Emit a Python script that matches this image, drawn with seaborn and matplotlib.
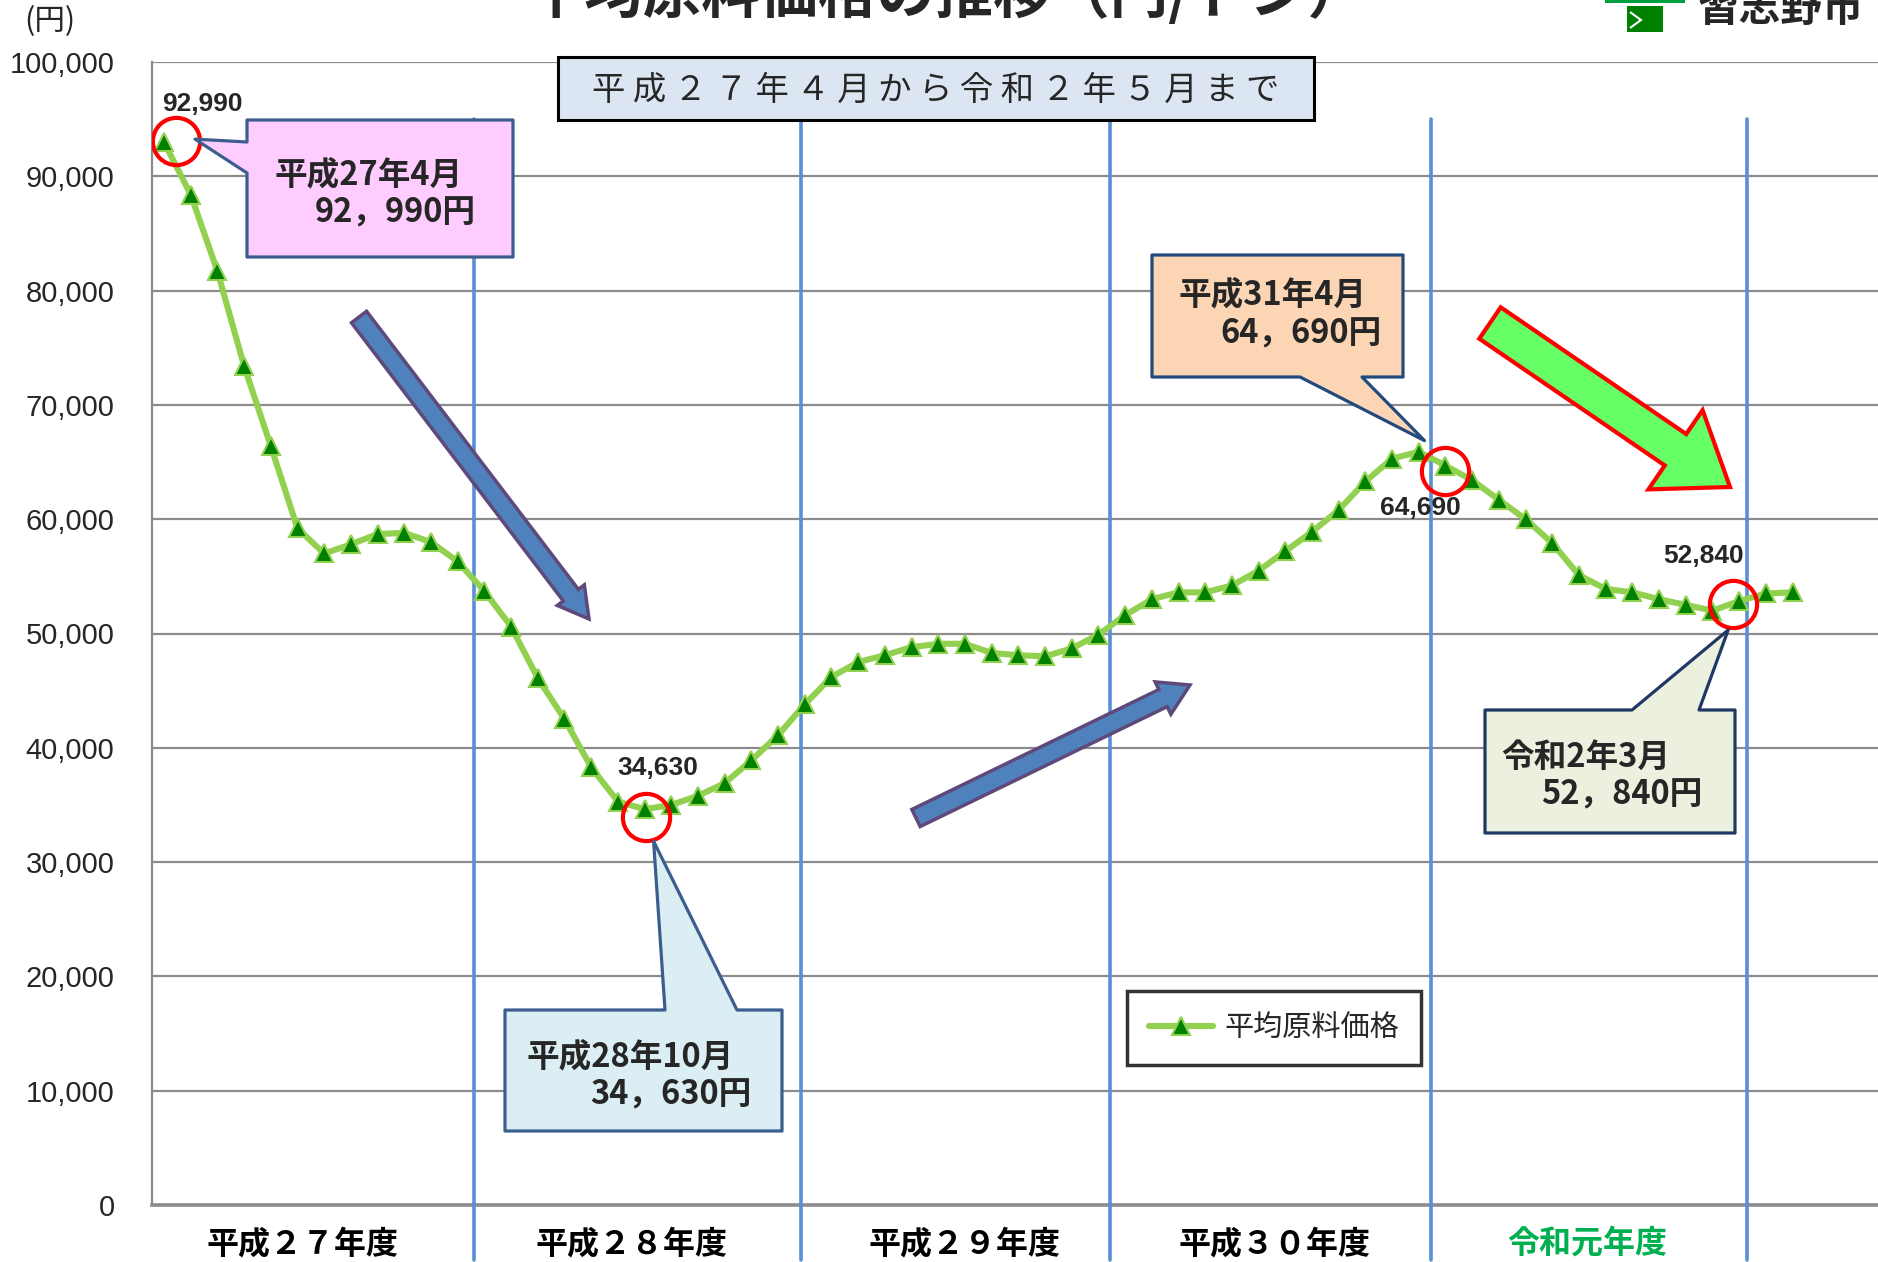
import numpy as np
import pandas as pd
import matplotlib
matplotlib.use("Agg")
import matplotlib.pyplot as plt
import seaborn as sns
from matplotlib.patches import Polygon, FancyArrow, Rectangle
from matplotlib.transforms import IdentityTransform, blended_transform_factory, offset_copy
from matplotlib.ticker import FuncFormatter

# ---------------- data ----------------
# monthly index: 0 = 平成27年4月 ... 61 = 令和2年5月
month_index = list(range(62))
prices = [92990, 88400, 81700, 73400, 66400, 59200, 57000, 57800, 58700, 58800, 58000, 56300,
          53700, 50600, 46100, 42500, 38300, 35300, 34630, 35000, 35800, 36900, 38900, 41100,
          43800, 46200, 47500, 48100, 48800, 49100, 49100, 48300, 48100, 48000, 48700, 49900,
          51600, 53000, 53600, 53600, 54200, 55500, 57200, 58900, 60800, 63300, 65300, 65900,
          64690, 63400, 61700, 60000, 57900, 55100, 53900, 53600, 53000, 52500, 52000, 52840,
          53500, 53600]
series_name = "平均原料価格"
fiscal_years = ["平成２７年度", "平成２８年度", "平成２９年度", "平成３０年度", "令和元年度"]
fiscal_colors = ["black", "black", "black", "black", "#00B050"]
fiscal_label_x = [5.2, 17.5, 30.0, 41.6, 53.3]
boundary_x = [11.6, 23.85, 35.45, 47.45, 59.3]
highlight_idx = [0, 18, 48, 59]
highlight_labels = ["92,990", "34,630", "64,690", "52,840"]
callout_lines = [("平成27年4月", "92，990円"),
                 ("平成28年10月", "34，630円"),
                 ("平成31年4月", "64，690円"),
                 ("令和2年3月", "52，840円")]
y_ticks = list(range(0, 100001, 10000))

df = pd.DataFrame({"month": month_index, "price": prices})

W, H = 1878, 1262
sns.set_style("white")
plt.rcParams["font.family"] = ["Noto Sans CJK JP", "DejaVu Sans"]

fig = plt.figure(figsize=(W / 100, H / 100), dpi=100)
ax_left, ax_top, ax_bottom = 152, 62, 1205
ax = fig.add_axes([ax_left / W, 1 - ax_bottom / H, (W - ax_left) / W, (ax_bottom - ax_top) / H])

sns.lineplot(data=df, x="month", y="price", ax=ax, color="#92D050", lw=4.4,
             marker="^", markersize=13, markerfacecolor="#008000",
             markeredgecolor="#92D050", markeredgewidth=1.5, label=series_name, zorder=5)

ax.set_xlim(-0.45, 64.2)
ax.set_ylim(0, 100000)
ax.set_yticks(y_ticks)
ax.yaxis.set_major_formatter(FuncFormatter(lambda v, p: f"{int(v):,}"))
ax.set_xticks([])
ax.set_xlabel("")
ax.set_ylabel("")
ax.grid(axis="y", color="#8C8C8C", lw=1.6)
ax.grid(axis="x", visible=False)
ax.set_axisbelow(True)
for s in ["top", "right"]:
    ax.spines[s].set_visible(False)
ax.spines["left"].set_color("#8C8C8C")
ax.spines["left"].set_linewidth(1.6)
ax.spines["bottom"].set_color("#8C8C8C")
ax.spines["bottom"].set_linewidth(2.6)
ax.tick_params(axis="y", direction="out", length=6, width=1.5, color="#8C8C8C",
               pad=21, labelsize=21)
for lab in ax.get_yticklabels():
    lab.set_fontfamily(["Liberation Sans", "DejaVu Sans"])

# fiscal-year boundaries
for b in boundary_x:
    ax.plot([b, b], [-4800, 95000], color="#5A8ED6", lw=2.6, clip_on=False, zorder=3)

# fiscal-year labels
bt = blended_transform_factory(ax.transData, fig.transFigure)
for lx, lab, col in zip(fiscal_label_x, fiscal_years, fiscal_colors):
    ax.text(lx, 1 - 1244 / H, lab, transform=bt, ha="center", va="center",
            fontsize=23, fontweight="bold", color=col, clip_on=False)

# red circles and value labels
circle_offsets = [(12, 1), (1, -8), (0, -5), (-6, -3)]
label_offsets = [(38, 38), (13, 41), (-25, -42), (-36, 45)]
for i, t, coff, loff in zip(highlight_idx, highlight_labels, circle_offsets, label_offsets):
    x, y = month_index[i], prices[i]
    tr = offset_copy(ax.transData, fig=fig, x=coff[0], y=coff[1], units="dots")
    ax.plot([x], [y], ls="none", marker="o", markersize=34, markerfacecolor="none",
            markeredgecolor="#FF0000", markeredgewidth=3, zorder=7, transform=tr)
    ax.annotate(t, xy=(x, y), xytext=loff, textcoords="offset pixels", ha="center",
                va="center", fontsize=19, fontweight="bold",
                fontfamily=["Liberation Sans", "DejaVu Sans"], zorder=8)

# legend
leg = ax.legend(loc="center", bbox_to_anchor=(0.650, 0.155), fontsize=21, frameon=True,
                fancybox=False, handlelength=2.2, borderpad=0.75, handletextpad=0.4)
leg.get_frame().set_edgecolor("black")
leg.get_frame().set_linewidth(2.5)

fig.canvas.draw()


def P(x, y):
    """top-origin pixel -> display coords"""
    return (x, H - y)


def tip_from(i, dx, dy):
    tx, ty = ax.transData.transform((month_index[i], prices[i]))
    return (tx + dx, ty - dy)


def add_poly(verts, fc, ec, lw=2.3):
    poly = Polygon(verts, closed=True, facecolor=fc, edgecolor=ec, lw=lw,
                   transform=IdentityTransform(), joinstyle="round", zorder=5)
    fig.add_artist(poly)


# callout 1 (pink, tail on left)
L, T, R, B = 247, 120, 513, 257
add_poly([P(L, T), P(R, T), P(R, B), P(L, B), P(L, 173), tip_from(0, 31, -3), P(L, 142)],
         "#FFCCFF", "#3B5E8E")
# callout 2 (light blue, tail on top)
L, T, R, B = 505, 1010, 782, 1131
add_poly([P(L, T), P(665, T), tip_from(18, 9, 32), P(737, T), P(R, T), P(R, B), P(L, B)],
         "#DBEEF4", "#3B5E8E")
# callout 3 (peach, tail on bottom)
L, T, R, B = 1152, 255, 1403, 377
add_poly([P(L, T), P(R, T), P(R, B), P(1362, B), tip_from(48, -21, -25), P(1300, B), P(L, B)],
         "#FCD5B5", "#234A7D")
# callout 4 (pale green, tail on top)
L, T, R, B = 1485, 710, 1735, 833
add_poly([P(L, T), P(1632, T), tip_from(59, -11, 29), P(1699, T), P(R, T), P(R, B), P(L, B)],
         "#EBF1DE", "#1F3864")

text_pos = [((274, 175), (315, 213)), ((527, 1057), (590, 1095)),
            ((1178, 295), (1220, 334)), ((1501, 757), (1541, 795))]
for (l1, l2), ((x1, y1), (x2, y2)) in zip(callout_lines, text_pos):
    fig.text(x1 / W, 1 - y1 / H, l1, ha="left", va="center", fontsize=23.5,
             fontweight="bold", zorder=6)
    fig.text(x2 / W, 1 - y2 / H, l2, ha="left", va="center", fontsize=23.5,
             fontweight="bold", zorder=6)


# arrows
def add_arrow(x0, y0, x1, y1, width, hw, hl, fc, ec, lw):
    sx, sy = P(x0, y0)
    ex, ey = P(x1, y1)
    arr = FancyArrow(sx, sy, ex - sx, ey - sy, width=width, head_width=hw, head_length=hl,
                     length_includes_head=True, facecolor=fc, edgecolor=ec, lw=lw,
                     transform=IdentityTransform(), zorder=4)
    fig.add_artist(arr)


add_arrow(359, 317, 589, 619, 19, 34, 30, "#4F81BD", "#5F497A", 2.5)
add_arrow(916, 818, 1190, 685, 19, 36, 30, "#4F81BD", "#5F497A", 2.5)
add_arrow(1490, 323, 1730, 487, 38, 96, 66, "#66FF66", "#FF0000", 3)

# subtitle box
sx, sy = P(558, 120)
fig.add_artist(Rectangle((sx, sy), 1314 - 558, 120 - 57, facecolor="#DCE6F2",
                         edgecolor="black", lw=2.2, transform=IdentityTransform(), zorder=5))
fig.text(936 / W, 1 - 90 / H, " ".join("平成２７年４月から令和２年５月まで"),
         ha="center", va="center", fontsize=24, zorder=6)

# title, unit, logo
fig.text(946 / W, 1 - 26 / H, "平均原料価格の推移（円/トン）", ha="center", va="bottom",
         fontsize=42, fontweight="bold")
fig.text(50 / W, 1 - 22 / H, "(円)", ha="center", va="center", fontsize=22)
fig.text(1781 / W, 1 - 30 / H, "習志野市", ha="center", va="bottom", fontsize=30,
         fontweight="bold")
gx, gy = P(1627, 32)
fig.add_artist(Rectangle((gx, gy), 36, 26, facecolor="#008000", edgecolor="none",
                         transform=IdentityTransform()))
bx, by = P(1605, 3)
fig.add_artist(Rectangle((bx, by), 80, 6, facecolor="#00A040", edgecolor="none",
                         transform=IdentityTransform()))
fig.add_artist(Polygon([P(1630, 12), P(1641, 20), P(1630, 28)], closed=False, fill=False,
                       edgecolor="white", lw=1.5, transform=IdentityTransform()))

fig.savefig("out.png", dpi=100)
